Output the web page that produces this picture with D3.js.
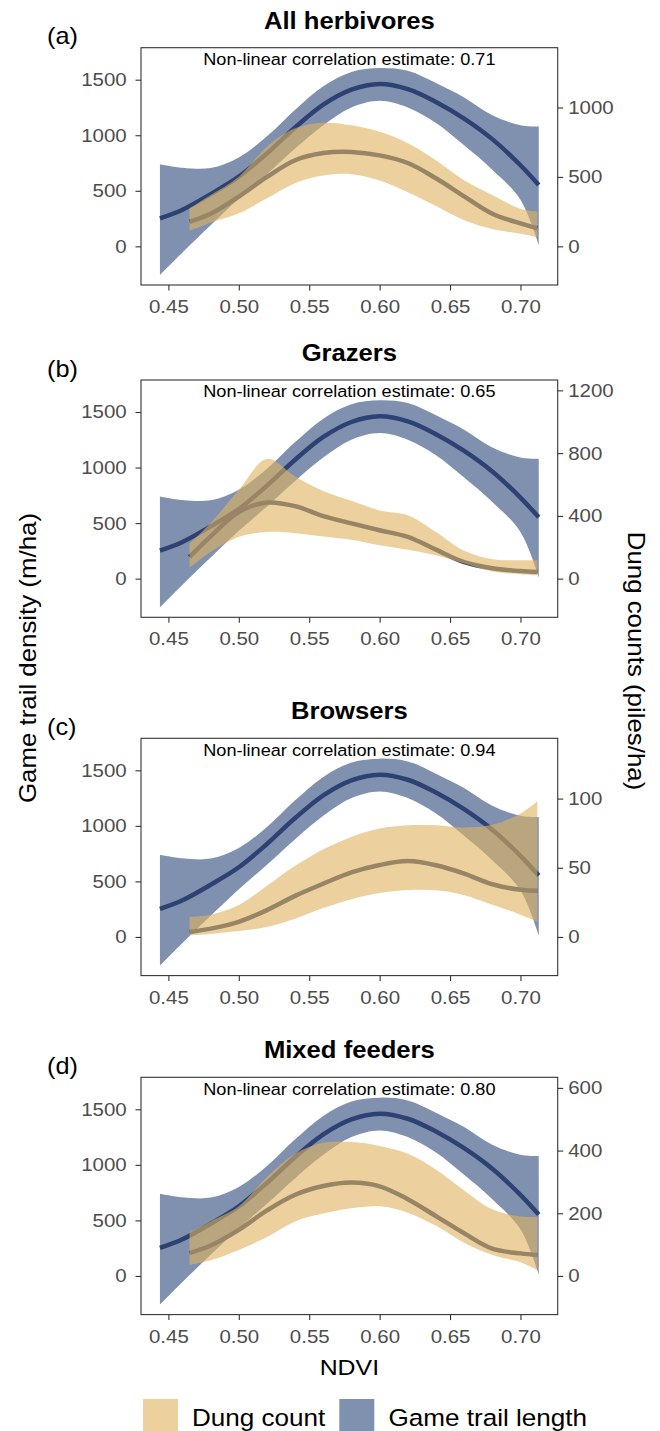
<!DOCTYPE html>
<html>
<head>
<meta charset="utf-8">
<script src="https://cdn.jsdelivr.net/npm/d3@7"></script>
<style>
  body { margin: 0; background: #fff; }
  text { font-family: "Liberation Sans", Arial, sans-serif; }
</style>
</head>
<body>
<svg id="chart" width="660" height="1431"></svg>
<script>
// game trail density (same smooth in every panel), m/ha
const trailNdvi  = [0.444, 0.46, 0.48, 0.50, 0.52, 0.54, 0.56, 0.58, 0.60, 0.62, 0.64, 0.66, 0.68, 0.70, 0.713];
const trailFit   = [252, 330, 470, 627, 837, 1070, 1275, 1410, 1461, 1415, 1300, 1150, 965, 730, 552];
const trailUpper = [740, 708, 705, 800, 990, 1230, 1440, 1570, 1605, 1580, 1470, 1340, 1180, 1090, 1078];
const trailLower = [-258, -55, 190, 430, 650, 880, 1090, 1250, 1310, 1250, 1110, 910, 690, 420, 12];

// dung counts, piles/ha (read on the right axis of each panel)
const dungNdvi = [0.465, 0.48, 0.50, 0.52, 0.54, 0.56, 0.58, 0.60, 0.62, 0.64, 0.66, 0.68, 0.70, 0.712];
const allFit   = [177, 235, 358, 500, 620, 672, 680, 655, 600, 490, 360, 235, 165, 130];
const allUpper = [274, 370, 502, 718, 850, 890, 872, 826, 745, 620, 476, 370, 270, 250];
const allLower = [112, 170, 238, 346, 455, 510, 520, 475, 390, 290, 188, 125, 90, 65];
const grazerFit   = [138, 269, 425, 485, 462, 398, 352, 308, 266, 185, 105, 66, 48, 42];
const grazerUpper = [223, 354, 566, 763, 651, 559, 496, 435, 404, 297, 177, 124, 117, 117];
const grazerLower = [70, 170, 265, 297, 290, 269, 248, 212, 184, 149, 96, 46, 28, 21];
const browserFit   = [3.6, 6, 10.9, 19.4, 29.7, 38.5, 46.6, 52, 54.8, 51.8, 45.8, 38.1, 34.1, 33.4];
const browserUpper = [14.5, 16, 23, 37, 51.4, 63.4, 72.3, 78.3, 80.7, 80.7, 79.1, 81.1, 89.1, 98];
const browserLower = [1.2, 2.2, 4.3, 7.2, 13.2, 20.9, 27.3, 31.7, 33.9, 33.7, 30.2, 23.3, 16.1, 10.9];
const mixedFit   = [73, 97, 147, 209, 259, 287, 298, 286, 245, 191, 136, 87, 72, 67];
const mixedUpper = [139, 174, 222, 316, 390, 425, 427, 415, 390, 340, 273, 213, 190, 188];
const mixedLower = [35, 50, 83, 124, 174, 199, 216, 222, 202, 160, 106, 67, 44, 19];

const panelTitles = ['All herbivores', 'Grazers', 'Browsers', 'Mixed feeders'];
const panelTags = ['(a)', '(b)', '(c)', '(d)'];
const corrEstimates = ['0.71', '0.65', '0.94', '0.80'];
const dungPerTrail = [0.8, 0.708, 0.0803, 0.3545];   // sec axis = primary * factor
const dungTicks = [[0, 500, 1000], [0, 400, 800, 1200], [0, 50, 100], [0, 200, 400, 600]];
const trailTicks = [0, 500, 1000, 1500];
const ndviTicks = [0.45, 0.50, 0.55, 0.60, 0.65, 0.70];
const trailDomain = [-348, 1788];

const dungSeries = [
  [allFit, allLower, allUpper],
  [grazerFit, grazerLower, grazerUpper],
  [browserFit, browserLower, browserUpper],
  [mixedFit, mixedLower, mixedUpper]
];

const SX = 1.1; // text in the figure is set a little wide
const navy = '#2D4272', blueFill = '#2C477A', tanFill = '#E0B35E';
const box = { left: 141, right: 557.7, height: 237.3 };
const panelTop = [47.7, 380, 738.3, 1077.3];
const innerW = box.right - box.left;

const svg = d3.select('#chart');
svg.append('rect').attr('width', 660).attr('height', 1431).attr('fill', '#fff');

function label(parent, str, px, py, o = {}) {
  return parent.append('text')
    .attr('transform', `translate(${px},${py}) rotate(${o.rotate || 0}) scale(${SX},1)`)
    .attr('text-anchor', o.anchor || 'middle')
    .attr('font-size', o.size || 18.6)
    .attr('font-weight', o.weight || 'normal')
    .attr('fill', o.fill || '#000')
    .text(str);
}

function styleAxis(ax) {
  ax.select('.domain').remove();
  ax.attr('font-size', 18.6).attr('font-family', '"Liberation Sans", Arial, sans-serif');
  ax.selectAll('.tick line').attr('stroke', '#333').attr('stroke-width', 1.1);
  ax.selectAll('.tick text').attr('fill', '#4D4D4D').attr('transform', `scale(${SX},1)`);
}

const expand = (lo, hi) => [lo - (hi - lo) * 0.05, hi + (hi - lo) * 0.05];
const x = d3.scaleLinear()
  .domain(expand(trailNdvi[0], trailNdvi[trailNdvi.length - 1]))
  .range([0, innerW]);

const trailRows = trailNdvi.map((n, j) => ({ n, fit: trailFit[j], lo: trailLower[j], hi: trailUpper[j] }));
const curve = d3.curveCatmullRom.alpha(0.5);

panelTitles.forEach((title, i) => {
  const g = svg.append('g').attr('transform', `translate(${box.left},${panelTop[i]})`);
  const y = d3.scaleLinear().domain(trailDomain).range([box.height, 0]);
  const yR = d3.scaleLinear().domain(trailDomain.map(v => v * dungPerTrail[i])).range([box.height, 0]);
  const [fit, lower, upper] = dungSeries[i];
  const dungRows = dungNdvi.map((n, j) => ({ n, fit: fit[j], lo: lower[j], hi: upper[j] }));

  const band = sc => d3.area().x(d => x(d.n)).y0(d => sc(d.lo)).y1(d => sc(d.hi)).curve(curve);
  const mid = sc => d3.line().x(d => x(d.n)).y(d => sc(d.fit)).curve(curve);

  g.append('path').datum(trailRows).attr('d', band(y)).attr('fill', blueFill).attr('fill-opacity', 0.6);
  g.append('path').datum(trailRows).attr('d', mid(y)).attr('fill', 'none')
    .attr('stroke', navy).attr('stroke-width', 4.5);
  g.append('path').datum(dungRows).attr('d', mid(yR)).attr('fill', 'none')
    .attr('stroke', navy).attr('stroke-width', 4.5);
  g.append('path').datum(dungRows).attr('d', band(yR)).attr('fill', tanFill).attr('fill-opacity', 0.6);

  g.append('rect').attr('width', innerW).attr('height', box.height)
    .attr('fill', 'none').attr('stroke', '#333').attr('stroke-width', 1.1);

  styleAxis(g.append('g')
    .call(d3.axisLeft(y).tickValues(trailTicks).tickFormat(d3.format('d')).tickSize(5.5).tickPadding(7.5)));
  styleAxis(g.append('g').attr('transform', `translate(${innerW},0)`)
    .call(d3.axisRight(yR).tickValues(dungTicks[i]).tickFormat(d3.format('d')).tickSize(5.5).tickPadding(4.1)));
  styleAxis(g.append('g').attr('transform', `translate(0,${box.height})`)
    .call(d3.axisBottom(x).tickValues(ndviTicks).tickFormat(d3.format('.2f')).tickSize(5.5).tickPadding(9.5)));

  label(g, title, innerW / 2, -19, { size: 23.3, weight: 'bold' });
  label(g, panelTags[i], 47 - box.left, -3.5, { size: 23, anchor: 'start' });
  label(g, `Non-linear correlation estimate: ${corrEstimates[i]}`, innerW / 2, 17.3, { size: 16.5 });
});

label(svg, 'Game trail density (m/ha)', 36, 658, { size: 23.5, rotate: -90 });
label(svg, 'Dung counts (piles/ha)', 628, 661, { size: 23.5, rotate: 90 });
label(svg, 'NDVI', (box.left + box.right) / 2, 1375, { size: 22.6 });

// legend
const legendItems = [
  { name: 'Dung count', fill: tanFill, kx: 143, tx: 192 },
  { name: 'Game trail length', fill: blueFill, kx: 339.3, tx: 388.6 }
];
legendItems.forEach(it => {
  svg.append('rect').attr('x', it.kx).attr('y', 1399).attr('width', 35).attr('height', 34)
    .attr('fill', it.fill).attr('fill-opacity', 0.6);
  label(svg, it.name, it.tx, 1426, { size: 23.7, anchor: 'start' });
});
</script>
</body>
</html>
